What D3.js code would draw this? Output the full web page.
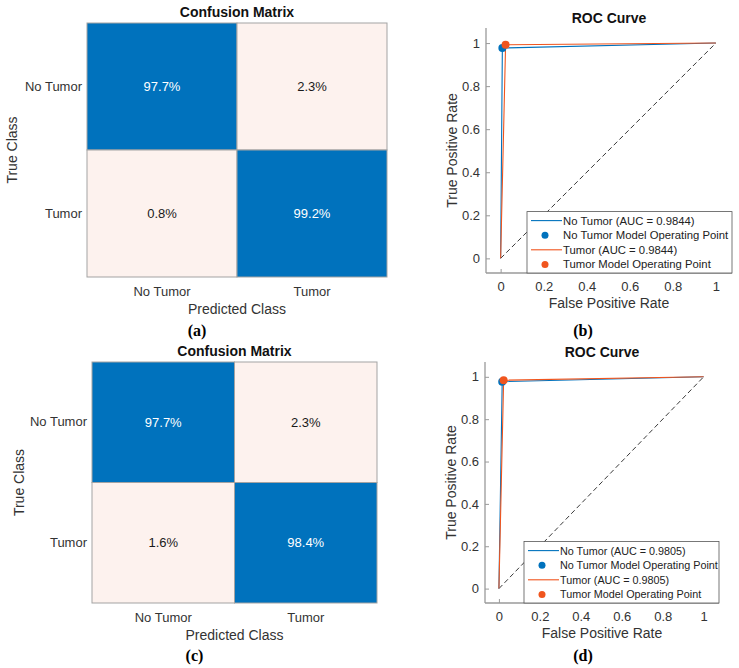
<!DOCTYPE html>
<html>
<head>
<meta charset="utf-8">
<script src="https://cdn.jsdelivr.net/npm/d3@7"></script>
<style>
  body { margin: 0; background: #fff; }
  svg text { font-family: "Liberation Sans", Arial, sans-serif; }
</style>
</head>
<body>
<div id="chart"></div>
<script>
// class names and percentages
var classes = ["No Tumor", "Tumor"];
var cmA = [[97.7, 2.3], [0.8, 99.2]];
var cmC = [[97.7, 2.3], [1.6, 98.4]];

// ROC curves: (0,0) -> operating point -> (1,1)
var rocB_noTumorFpr = [0, 0.008, 1];
var rocB_noTumorTpr = [0, 0.977, 1];
var rocB_tumorFpr = [0, 0.023, 1];
var rocB_tumorTpr = [0, 0.992, 1];
var rocB_auc = ["0.9844", "0.9844"];

var rocD_noTumorFpr = [0, 0.016, 1];
var rocD_noTumorTpr = [0, 0.977, 1];
var rocD_tumorFpr = [0, 0.023, 1];
var rocD_tumorTpr = [0, 0.984, 1];
var rocD_auc = ["0.9805", "0.9805"];

var rocTicks = [0, 0.2, 0.4, 0.6, 0.8, 1];

var blue = "#0072BD", orange = "#F0551E", light = "#FDF2EE";

var svg = d3.select("#chart")
    .append("svg")
    .attr("width", 739)
    .attr("height", 668);

function caption(x, y, txt) {
  svg.append("text")
    .attr("x", x).attr("y", y)
    .attr("text-anchor", "middle")
    .attr("dominant-baseline", "central")
    .style("font-family", "'Liberation Serif', 'DejaVu Serif', serif")
    .style("font-weight", "bold")
    .style("font-size", "16px")
    .text(txt);
}

function drawMatrix(box, cm, cap) {
  var x = d3.scaleBand().domain(classes).range([box.left, box.right]);
  var y = d3.scaleBand().domain(classes).range([box.top, box.bottom]);

  var g = svg.append("g");
  var cells = [];
  cm.forEach(function(row, i) {
    row.forEach(function(v, j) {
      cells.push({t: classes[i], p: classes[j], v: v});
    });
  });

  g.selectAll("rect")
    .data(cells)
    .enter().append("rect")
    .attr("x", function(d) { return x(d.p); })
    .attr("y", function(d) { return y(d.t); })
    .attr("width", x.bandwidth())
    .attr("height", y.bandwidth())
    .style("fill", function(d) { return d.v > 50 ? blue : light; })
    .style("stroke", "#a3a3a3")
    .style("stroke-width", 1);

  g.selectAll(".val")
    .data(cells)
    .enter().append("text")
    .attr("class", "val")
    .attr("x", function(d) { return x(d.p) + x.bandwidth() / 2; })
    .attr("y", function(d) { return y(d.t) + y.bandwidth() / 2; })
    .attr("text-anchor", "middle")
    .attr("dominant-baseline", "central")
    .style("font-size", "13px")
    .style("fill", function(d) { return d.v > 50 ? "#ffffff" : "#1a1a1a"; })
    .text(function(d) { return d.v.toFixed(1) + "%"; });

  // axes with class names
  var ax = g.append("g")
    .attr("transform", "translate(0," + box.bottom + ")")
    .call(d3.axisBottom(x).tickSize(0).tickPadding(10));
  var ay = g.append("g")
    .attr("transform", "translate(" + box.left + ",0)")
    .call(d3.axisLeft(y).tickSize(0).tickPadding(5));
  [ax, ay].forEach(function(a) {
    a.select(".domain").remove();
    a.selectAll("text")
      .style("font-family", "'Liberation Sans', Arial, sans-serif")
      .style("font-size", "13px")
      .style("fill", "#333");
  });

  var cx = (box.left + box.right) / 2;
  g.append("text")
    .attr("x", cx).attr("y", box.top - 11)
    .attr("text-anchor", "middle")
    .attr("dominant-baseline", "central")
    .style("font-weight", "bold")
    .style("font-size", "14px")
    .style("fill", "#111")
    .text("Confusion Matrix");

  g.append("text")
    .attr("x", cx).attr("y", box.bottom + 32)
    .attr("text-anchor", "middle")
    .attr("dominant-baseline", "central")
    .style("font-size", "14px")
    .style("fill", "#333")
    .text("Predicted Class");

  g.append("text")
    .attr("transform", "translate(" + box.labelX + "," + ((box.top + box.bottom) / 2) + ") rotate(-90)")
    .attr("text-anchor", "middle")
    .attr("dominant-baseline", "central")
    .style("font-size", "14px")
    .style("fill", "#333")
    .text("True Class");

  caption(cx - 40, box.capY, cap);
}

function drawRoc(box, series, auc, cap) {
  var x = d3.scaleLinear().domain([-0.068, 1.075]).range([box.left, box.right]);
  var y = d3.scaleLinear().domain([-0.068, 1.07]).range([box.bottom, box.top]);
  var g = svg.append("g");

  // axes, ticks pointing inward
  var ax = g.append("g")
    .attr("transform", "translate(0," + box.bottom + ")")
    .call(d3.axisBottom(x).tickValues(rocTicks).tickSize(-4).tickPadding(9)
      .tickFormat(d3.format("")));
  var ay = g.append("g")
    .attr("transform", "translate(" + box.left + ",0)")
    .call(d3.axisLeft(y).tickValues(rocTicks).tickSize(-4).tickPadding(6)
      .tickFormat(d3.format("")));
  [ax, ay].forEach(function(a) {
    a.select(".domain").style("stroke", "#9a9a9a").style("stroke-width", 1.3)
      .attr("d", a === ax ? "M" + box.left + ",0H" + box.right : "M0," + box.top + "V" + box.bottom);
    a.selectAll(".tick line").style("stroke", "#9a9a9a");
    a.selectAll("text")
      .style("font-family", "'Liberation Sans', Arial, sans-serif")
      .style("font-size", "13px")
      .style("fill", "#333");
  });

  // chance diagonal
  g.append("line")
    .attr("x1", x(0)).attr("y1", y(0))
    .attr("x2", x(1)).attr("y2", y(1))
    .style("stroke", "#222")
    .style("stroke-width", 0.9)
    .style("stroke-dasharray", "5,3");

  var line = d3.line()
    .x(function(d) { return x(d[0]); })
    .y(function(d) { return y(d[1]); });

  series.forEach(function(s) {
    var pts = d3.zip(s.fpr, s.tpr);
    g.append("path")
      .datum(pts)
      .attr("d", line)
      .style("fill", "none")
      .style("stroke", s.color)
      .style("stroke-width", 1.1);
  });
  series.forEach(function(s) {
    g.append("circle")
      .attr("cx", x(s.fpr[1]))
      .attr("cy", y(s.tpr[1]))
      .attr("r", 4)
      .style("fill", s.color);
  });

  g.append("text")
    .attr("x", (box.left + box.right) / 2).attr("y", box.top - 10)
    .attr("text-anchor", "middle")
    .attr("dominant-baseline", "central")
    .style("font-weight", "bold")
    .style("font-size", "14px")
    .style("fill", "#111")
    .text("ROC Curve");

  g.append("text")
    .attr("x", (box.left + box.right) / 2).attr("y", box.bottom + 30)
    .attr("text-anchor", "middle")
    .attr("dominant-baseline", "central")
    .style("font-size", "14px")
    .style("fill", "#333")
    .text("False Positive Rate");

  g.append("text")
    .attr("transform", "translate(" + (box.left - 34) + "," + ((box.top + box.bottom) / 2) + ") rotate(-90)")
    .attr("text-anchor", "middle")
    .attr("dominant-baseline", "central")
    .style("font-size", "14px")
    .style("fill", "#333")
    .text("True Positive Rate");

  // legend in lower right corner
  var items = [
    {label: classes[0] + " (AUC = " + auc[0] + ")", color: series[0].color, type: "line"},
    {label: classes[0] + " Model Operating Point", color: series[0].color, type: "dot"},
    {label: classes[1] + " (AUC = " + auc[1] + ")", color: series[1].color, type: "line"},
    {label: classes[1] + " Model Operating Point", color: series[1].color, type: "dot"}
  ];
  var lw = box.legendW, rowH = 14.6;
  var lh = rowH * items.length + 3;
  var lg = g.append("g")
    .attr("transform", "translate(" + (box.right - lw) + "," + (box.bottom - lh) + ")");
  lg.append("rect")
    .attr("width", lw).attr("height", lh)
    .style("fill", "#fff")
    .style("stroke", "#555")
    .style("stroke-width", 0.8);
  var row = lg.selectAll(".item")
    .data(items)
    .enter().append("g")
    .attr("transform", function(d, i) { return "translate(0," + (9 + i * rowH) + ")"; });
  row.filter(function(d) { return d.type === "line"; })
    .append("line")
    .attr("x1", 4).attr("x2", 35)
    .style("stroke", function(d) { return d.color; })
    .style("stroke-width", 1.1);
  row.filter(function(d) { return d.type === "dot"; })
    .append("circle")
    .attr("cx", 18).attr("r", 3.5)
    .style("fill", function(d) { return d.color; });
  row.append("text")
    .attr("x", 36)
    .attr("dominant-baseline", "central")
    .style("font-size", box.legendFont)
    .style("fill", "#222")
    .text(function(d) { return d.label; });

  caption(box.capX, box.capY, cap);
}

drawMatrix({left: 87, right: 387, top: 23, bottom: 277, labelX: 12, capY: 330}, cmA, "(a)");
drawMatrix({left: 92, right: 377, top: 362, bottom: 603, labelX: 19, capY: 655}, cmC, "(c)");

drawRoc({left: 486, right: 732, top: 28, bottom: 273, legendW: 205, legendFont: "11.3px", capX: 583, capY: 330},
  [{fpr: rocB_noTumorFpr, tpr: rocB_noTumorTpr, color: blue},
   {fpr: rocB_tumorFpr, tpr: rocB_tumorTpr, color: orange}], rocB_auc, "(b)");

drawRoc({left: 485, right: 719, top: 362, bottom: 603, legendW: 195, legendFont: "10.8px", capX: 583, capY: 655},
  [{fpr: rocD_noTumorFpr, tpr: rocD_noTumorTpr, color: blue},
   {fpr: rocD_tumorFpr, tpr: rocD_tumorTpr, color: orange}], rocD_auc, "(d)");
</script>
</body>
</html>
